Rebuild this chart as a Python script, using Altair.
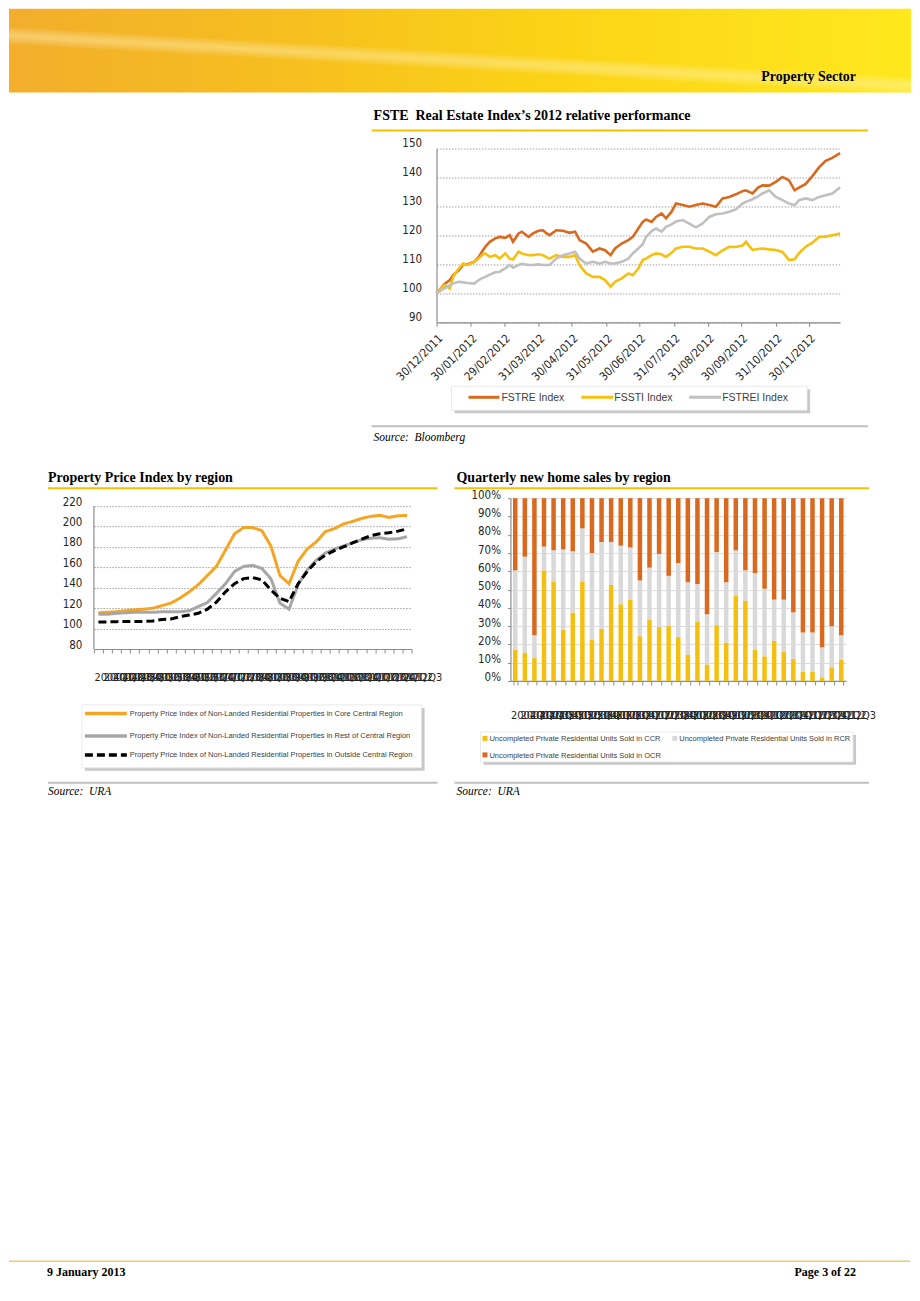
import altair as alt
import pandas as pd

# ===================== DATA =====================
# Chart 1 : FSTE Real Estate Index's 2012 relative performance (rebased, 30/12/2011 = 100)
fs_start = "2011-12-30"
fs_days = [0, 7, 12, 15, 20, 24, 28, 34, 38, 41, 44, 48, 53, 57, 62, 66, 69, 74, 77, 83,
           87, 92, 96, 99, 102, 108, 114, 120, 125, 129, 135, 141, 147, 152, 157, 161, 167, 173, 177, 182,
           186, 189, 194, 198, 203, 207, 212, 216, 222, 228, 234, 240, 246, 252, 258, 264, 270, 276, 279, 285,
           290, 294, 300, 306, 312, 318, 323, 327, 333, 339, 345, 351, 357, 364]
fstre = [100, 103.2, 104.6, 106.3, 108.0, 109.8, 110.1, 110.9, 112.5, 114.4, 116.1, 117.8, 119.0, 119.5, 119.2, 120.1, 117.8, 120.7, 121.3, 119.5,
         120.7, 121.6, 121.8, 120.8, 120.1, 121.8, 121.6, 120.9, 121.3, 118.4, 117.2, 114.4, 115.5, 114.9, 113.2, 115.5, 117.2, 118.4, 119.5, 122.4,
         124.7, 125.5, 124.7, 126.4, 127.6, 125.9, 128.2, 131.0, 130.5, 129.9, 130.5, 131.0, 130.5, 129.9, 132.8, 133.3, 134.2, 135.3, 135.6, 134.5,
         136.5, 137.3, 137.2, 138.5, 140.2, 139.0, 135.6, 136.5, 137.8, 140.5, 143.5, 145.8, 146.8, 148.4]
fssti = [100, 102.9, 101.7, 105.7, 108.6, 110.3, 109.8, 110.9, 112.0, 113.2, 113.8, 112.6, 113.2, 112.0, 113.8, 112.0, 111.7, 114.4, 113.8, 113.2,
         113.2, 113.5, 113.2, 112.5, 112.0, 113.2, 112.6, 112.6, 113.2, 109.8, 106.9, 105.7, 105.7, 104.6, 102.3, 104.0, 105.2, 106.9, 106.3, 108.6,
         111.5, 112.0, 113.2, 113.8, 113.5, 112.6, 114.0, 115.5, 116.1, 116.1, 115.5, 115.5, 114.4, 113.2, 114.9, 116.1, 116.0, 116.5, 117.8, 115.0,
         115.3, 115.5, 115.2, 115.0, 114.3, 111.5, 111.8, 113.9, 116.1, 117.5, 119.5, 119.6, 120.1, 120.7]
fstrei = [100, 101.7, 102.8, 103.4, 104.0, 103.8, 103.6, 103.4, 104.6, 105.2, 105.7, 106.5, 107.3, 107.5, 108.6, 109.8, 108.9, 109.8, 110.2, 109.8,
          109.8, 110.0, 109.8, 109.8, 109.8, 112.0, 113.2, 113.8, 114.4, 112.0, 110.3, 110.9, 110.3, 110.9, 110.3, 110.3, 110.9, 112.0, 113.8, 115.5,
          117.0, 119.5, 121.5, 122.4, 121.3, 123.0, 123.8, 124.8, 125.3, 124.1, 122.8, 124.1, 126.4, 127.3, 127.6, 128.2, 129.0, 131.0, 131.6, 132.5,
          133.5, 134.5, 135.6, 133.3, 132.2, 131.0, 130.4, 132.2, 132.8, 132.2, 133.3, 133.9, 134.5, 136.6]
fs_series = ["FSTRE Index", "FSSTI Index", "FSTREI Index"]
fs_colors = ["#D9691E", "#F5C010", "#C0C0C0"]
fs_tick_dates = [(2011, 12, 30), (2012, 1, 30), (2012, 2, 29), (2012, 3, 31), (2012, 4, 30), (2012, 5, 31),
                 (2012, 6, 30), (2012, 7, 31), (2012, 8, 31), (2012, 9, 30), (2012, 10, 31), (2012, 11, 30)]
fs_end = (2012, 12, 28)
fs_y_ticks = [90, 100, 110, 120, 130, 140, 150]

# Chart 2 : Property Price Index by region (2004Q1 .. 2012Q3)
quarters = ["2004Q1", "2004Q2", "2004Q3", "2004Q4", "2005Q1", "2005Q2", "2005Q3", "2005Q4",
            "2006Q1", "2006Q2", "2006Q3", "2006Q4", "2007Q1", "2007Q2", "2007Q3", "2007Q4",
            "2008Q1", "2008Q2", "2008Q3", "2008Q4", "2009Q1", "2009Q2", "2009Q3", "2009Q4",
            "2010Q1", "2010Q2", "2010Q3", "2010Q4", "2011Q1", "2011Q2", "2011Q3", "2011Q4",
            "2012Q1", "2012Q2", "2012Q3"]
ppi_series = ["Property Price Index of Non-Landed Residential Properties in Core Central Region",
              "Property Price Index of Non-Landed Residential Properties in Rest of Central Region",
              "Property Price Index of Non-Landed Residential Properties in Outside Central Region"]
ppi_ccr = [115.5, 116, 116.5, 117.5, 118.5, 119, 120, 122.5, 125, 130, 136, 143, 152, 161, 177, 193, 199, 199,
           196, 181, 152, 144, 166, 178, 185, 195, 198, 202.5, 205, 208, 210, 211, 209, 210.5, 211]
ppi_rcr = [114, 114, 115, 115.5, 116, 116, 116, 116.5, 116.5, 116.5, 117.5, 121.5, 125.5, 134.6, 144, 156, 161, 162,
           159, 149, 125, 119, 143, 157.5, 167, 174, 178, 181, 184, 187, 188.6, 189, 187.6, 188, 190]
ppi_ocr = [106.5, 106.5, 106.8, 107, 107, 107, 107.5, 109, 109.4, 111.7, 113.3, 115, 119, 126, 136, 144, 149, 150,
           147.7, 138, 129.7, 126.4, 144, 156, 165.7, 172, 176.5, 180, 184, 187.6, 191, 193, 194, 195.5, 197.7]
ppi_colors = ["#F6A523", "#A6A6A6", "#000000"]
ppi_y_ticks = [80, 100, 120, 140, 160, 180, 200, 220]

# Chart 3 : Quarterly new home sales by region (share of units sold, %)
sales_series = ["Uncompleted Private Residential Units Sold in CCR",
                "Uncompleted Private Residential Units Sold in RCR",
                "Uncompleted Private Residential Units Sold in OCR"]
sales_ccr = [17, 15.5, 12.5, 60.5, 54.5, 28, 37.5, 54.5, 22.5, 28.5, 52.5, 42, 44.5, 24.5, 33.5, 29.5, 30, 24,
             14.5, 32.5, 9, 30.5, 21, 46.5, 44, 17, 13.5, 22, 16, 12, 5, 5, 2, 7.5, 11.5]
sales_rcr = [43.5, 52.5, 12.5, 13, 17, 44, 33.5, 29, 47.5, 47.5, 23.5, 32, 28.5, 30.5, 28.5, 40, 27.5, 40.5,
             39.5, 20.5, 27.5, 40, 33, 25, 16.5, 42, 37, 22.5, 28.5, 25.5, 21.5, 21.5, 16.5, 22.5, 13.5]
sales_ocr = [39.5, 32, 75, 26.5, 28.5, 28, 29, 16.5, 30, 24, 24, 26, 27, 45, 38, 30.5, 42.5, 35.5,
             46, 47, 63.5, 29.5, 46, 28.5, 39.5, 41, 49.5, 55.5, 55.5, 62.5, 73.5, 73.5, 81.5, 70, 75]
sales_colors = ["#F5BF12", "#D9D9D9", "#D9691E"]
sales_y_ticks = [0, 0.1, 0.2, 0.3, 0.4, 0.5, 0.6, 0.7, 0.8, 0.9, 1.0]

# ===================== STYLE =====================
SERIF = "Liberation Serif, Times New Roman, serif"
NARROW = "Liberation Sans Narrow, Arial Narrow, DejaVu Sans Condensed, Liberation Sans, Arial, sans-serif"
SANS = "Liberation Sans, Arial, sans-serif"
AX = "#8C8C8C"
NB = "\u00a0"
ONE = pd.DataFrame({"k": [0]})


def drect(o, x, y, x2, y2, **kw):
    return alt.Chart(ONE).mark_rect(**kw).encode(
        x=alt.value(x - o[0]), x2=alt.value(x2 - o[0]), y=alt.value(y - o[1]), y2=alt.value(y2 - o[1]))


def drule(o, x, x2, y, color, width, dash=None):
    kw = dict(color=color, strokeWidth=width)
    if dash:
        kw["strokeDash"] = dash
    return alt.Chart(ONE).mark_rule(**kw).encode(
        x=alt.value(x - o[0]), x2=alt.value(x2 - o[0]), y=alt.value(y - o[1]))


def dtext(o, text, x, y, size, font, weight="normal", style="normal", align="left", color="#000000"):
    return alt.Chart(ONE).mark_text(text=text, font=font, fontSize=size, fontWeight=weight, fontStyle=style,
                                    align=align, baseline="alphabetic", color=color).encode(
        x=alt.value(x - o[0]), y=alt.value(y - o[1]))


def spacer(w):
    return alt.Chart(ONE).mark_rect(opacity=0).encode(
        x=alt.value(0), x2=alt.value(1), y=alt.value(0), y2=alt.value(1)).properties(width=w, height=1)


def dt(t):
    return alt.DateTime(year=t[0], month=t[1], date=t[2])


# ===================== HEADER =====================
O0 = (8, 8)
banner_fill = {"gradient": "linear", "x1": 0, "y1": 0, "x2": 1, "y2": 0,
               "stops": [{"offset": 0, "color": "#F2AE2C"}, {"offset": 0.3, "color": "#F6BE1F"},
                         {"offset": 0.6, "color": "#FBD316"}, {"offset": 1, "color": "#FFE81E"}]}
swoosh_fill = {"gradient": "linear", "x1": 0, "y1": 1, "x2": 0.6, "y2": 0,
               "stops": [{"offset": 0, "color": "rgba(255,255,255,0)"},
                         {"offset": 0.42, "color": "rgba(255,255,255,0)"},
                         {"offset": 0.5, "color": "rgba(255,240,180,0.45)"},
                         {"offset": 0.58, "color": "rgba(255,255,255,0)"},
                         {"offset": 1, "color": "rgba(255,255,255,0)"}]}
header = alt.layer(
    drect(O0, 8, 8, 911, 92, fill=banner_fill),
    drect(O0, 8, 8, 911, 92, fill=swoosh_fill),
    dtext(O0, "Property Sector", 856, 80, 14, SERIF, weight="bold", align="right"),
).properties(width=903, height=84)

# ===================== CHART 1 =====================
O1 = (435, 148)
base = pd.Timestamp(fs_start)
fs_dates = [(base + pd.Timedelta(days=d)).strftime("%Y-%m-%dT00:00:00") for d in fs_days]
df1 = pd.DataFrame({
    "date": fs_dates * 3,
    "value": fstre + fssti + fstrei,
    "series": [s for s in fs_series for _ in fs_days],
})

lines1 = alt.Chart(df1).mark_line(strokeWidth=2.6).encode(
    x=alt.X("date:T", scale=alt.Scale(domain=[dt(fs_tick_dates[0]), dt(fs_end)]),
            axis=alt.Axis(values=[dt(t) for t in fs_tick_dates], format="%d/%m/%Y", title=None,
                          labelAngle=-45, labelFont=NARROW, labelFontSize=11.5, labelColor="#262626",
                          labelPadding=6, labelOverlap=False, labelFlush=False, grid=False,
                          domainColor=AX, domainWidth=1.2, tickColor=AX, tickSize=4)),
    y=alt.Y("value:Q", scale=alt.Scale(domain=[90, 150], nice=False, zero=False),
            axis=alt.Axis(values=fs_y_ticks, title=None, grid=True, gridColor="#8A8A8A",
                          gridDash=[1.5, 1.5], gridWidth=0.8, domainColor=AX, domainWidth=1.2,
                          ticks=False, labelFont=NARROW, labelFontSize=11.5, labelColor="#262626",
                          labelPadding=15, labelOffset=-5, labelOverlap=False)),
    color=alt.Color("series:N", scale=alt.Scale(domain=fs_series, range=fs_colors), legend=None),
)

cell1 = alt.layer(
    drect(O1, 370, 92, 911, 458, color="#FFFFFF", opacity=0),
    dtext(O1, "FSTE" + NB + " Real Estate Index\u2019s 2012 relative performance", 372, 119.5, 14, SERIF,
          weight="bold"),
    drule(O1, 370, 867, 130, "#F2C200", 2),
    drect(O1, 453, 389, 809, 413, color="#C8C8C8"),
    drect(O1, 450, 386, 806, 410, color="#FFFFFF", stroke="#E4E4E4", strokeWidth=0.8),
    drule(O1, 467, 498, 397, fs_colors[0], 3),
    dtext(O1, fs_series[0], 500, 401, 10.5, SANS, color="#404040"),
    drule(O1, 580, 612, 397, fs_colors[1], 3),
    dtext(O1, fs_series[1], 613, 401, 10.5, SANS, color="#404040"),
    drule(O1, 688, 720, 397, fs_colors[2], 3),
    dtext(O1, fs_series[2], 721, 401, 10.5, SANS, color="#404040"),
    drule(O1, 370, 867, 426, "#C0C0C0", 2),
    dtext(O1, "Source:" + NB + " Bloomberg", 372, 441, 11.5, SERIF, style="italic"),
    lines1,
).properties(width=404, height=174)

# ===================== CHART 2 =====================
O2 = (92, 498)
df2 = pd.DataFrame({
    "q": quarters * 3,
    "value": ppi_ccr + ppi_rcr + ppi_ocr,
    "series": [s for s in ppi_series for _ in quarters],
})
ppi_top = 80 + 140 * 151 / 143   # plot top sits 8px above the 220 line
y2_scale = alt.Scale(domain=[80, ppi_top], nice=False, zero=False)
y2_axis = alt.Axis(values=ppi_y_ticks, title=None, grid=True, gridColor="#8A8A8A",
                   gridDash=[1.5, 1.5], gridWidth=0.8, domain=False, ticks=False,
                   labelFont=NARROW, labelFontSize=11.5, labelColor="#262626",
                   labelPadding=12, labelOffset=-4, labelOverlap=False)

lines2 = alt.Chart(df2).mark_line(strokeWidth=3).encode(
    x=alt.X("q:O", sort=quarters, scale=alt.Scale(type="band", paddingInner=0, paddingOuter=0),
            axis=alt.Axis(title=None, labelAngle=0, labelAlign="left", labelOffset=-4.5, labelPadding=19,
                          labelOverlap=False, labelFont=NARROW, labelFontSize=11, labelColor="#262626",
                          tickBand="extent", tickColor=AX, tickSize=4, domainColor=AX, domainWidth=1.2,
                          grid=False)),
    y=alt.Y("value:Q", scale=y2_scale, axis=y2_axis),
    color=alt.Color("series:N", scale=alt.Scale(domain=ppi_series, range=ppi_colors), legend=None),
    strokeDash=alt.StrokeDash("series:N", scale=alt.Scale(domain=ppi_series, range=[[1, 0], [1, 0], [8, 4]]),
                              legend=None),
)
yaxis2 = alt.Chart(pd.DataFrame({"value": [ppi_y_ticks[0]], "hi": [ppi_y_ticks[-1]]})).mark_rule(
    color=AX, strokeWidth=1.2).encode(x=alt.value(0), y=alt.Y("value:Q", scale=y2_scale, axis=y2_axis),
                                      y2="hi:Q")

cell2 = alt.layer(
    drect(O2, 46, 458, 446, 800, color="#FFFFFF", opacity=0),
    dtext(O2, "Property Price Index by region", 46, 482, 14, SERIF, weight="bold"),
    drule(O2, 46, 436, 488, "#F2C200", 2),
    drect(O2, 83, 708, 423, 771, color="#C8C8C8"),
    drect(O2, 80, 705, 420, 768, color="#FFFFFF", stroke="#E4E4E4", strokeWidth=0.8),
    drule(O2, 83, 125, 713.5, ppi_colors[0], 3.5),
    dtext(O2, ppi_series[0], 128, 716, 7.5, SANS, color="#404040"),
    drule(O2, 83, 125, 736, ppi_colors[1], 3.5),
    dtext(O2, ppi_series[1], 128, 738.5, 7.5, SANS, color="#404040"),
    drule(O2, 83, 125, 755, ppi_colors[2], 3.5, dash=[8, 4]),
    dtext(O2, ppi_series[2], 128, 757.5, 7.5, SANS, color="#404040"),
    drule(O2, 46, 436, 783, "#C0C0C0", 2),
    dtext(O2, "Source:" + NB + " URA", 46, 795, 11.5, SERIF, style="italic"),
    yaxis2,
    lines2,
).properties(width=318, height=151)

# ===================== CHART 3 =====================
O3 = (509, 498)
df3 = pd.DataFrame({
    "q": quarters * 3,
    "pct": sales_ccr + sales_rcr + sales_ocr,
    "series": [s for s in sales_series for _ in quarters],
    "ord": [i for i in range(3) for _ in quarters],
})

bars3 = alt.Chart(df3).mark_bar().encode(
    x=alt.X("q:O", sort=quarters, scale=alt.Scale(paddingInner=0.53, paddingOuter=0.265),
            axis=alt.Axis(title=None, labelAngle=0, labelAlign="left", labelOffset=-4.8, labelPadding=25,
                          labelOverlap=False, labelFont=NARROW, labelFontSize=11, labelColor="#262626",
                          tickBand="extent", tickColor=AX, tickSize=4, domainColor=AX, domainWidth=1.2,
                          grid=False)),
    y=alt.Y("pct:Q", stack="normalize", scale=alt.Scale(domain=[0, 1], nice=False),
            axis=alt.Axis(values=sales_y_ticks, format=".0%", title=None, grid=True, gridColor="#D4D4D4",
                          gridWidth=0.8, domainColor=AX, domainWidth=1.2, tickColor=AX, tickSize=3,
                          labelFont=NARROW, labelFontSize=11.5, labelColor="#262626", labelPadding=7,
                          labelOffset=-3, labelOverlap=False)),
    color=alt.Color("series:N", scale=alt.Scale(domain=sales_series, range=sales_colors), legend=None),
    order=alt.Order("ord:Q"),
)

cell3 = alt.layer(
    drect(O3, 446, 458, 911, 800, color="#FFFFFF", opacity=0),
    dtext(O3, "Quarterly new home sales by region", 455, 482, 14, SERIF, weight="bold"),
    drule(O3, 453, 868, 488, "#F2C200", 2),
    drect(O3, 482, 735, 855, 765, color="#C8C8C8"),
    drect(O3, 479, 732, 852, 762, color="#FFFFFF", stroke="#E4E4E4", strokeWidth=0.8),
    drect(O3, 481, 736, 486, 741, color=sales_colors[0]),
    dtext(O3, sales_series[0], 488, 741, 7.5, SANS, color="#404040"),
    drect(O3, 671, 736, 676, 741, color=sales_colors[1]),
    dtext(O3, sales_series[1], 678, 741, 7.5, SANS, color="#404040"),
    drect(O3, 481, 752.5, 486, 757.5, color=sales_colors[2]),
    dtext(O3, sales_series[2], 488, 758, 7.5, SANS, color="#404040"),
    drule(O3, 453, 868, 783, "#C0C0C0", 2),
    dtext(O3, "Source:" + NB + " URA", 455, 795, 11.5, SERIF, style="italic"),
    bars3,
).properties(width=336, height=183)

# ===================== FOOTER =====================
O4 = (8, 800)
footer = alt.layer(
    drule(O4, 8, 910, 1262, "#EBCB6E", 1.5),
    dtext(O4, "9 January 2013", 46, 1277, 12, SERIF, weight="bold"),
    dtext(O4, "Page 3 of 22", 856, 1277, 12, SERIF, weight="bold", align="right"),
).properties(width=903, height=490)

IND = dict(color="independent", strokeDash="independent")
row1 = alt.hconcat(spacer(362), cell1, spacing=0).resolve_scale(**IND)
row2 = alt.hconcat(spacer(38), cell2, cell3, spacing=0).resolve_scale(**IND)

chart = alt.vconcat(header, row1, row2, footer, spacing=0).resolve_scale(**IND).properties(
    padding=0).configure_view(stroke=None)

chart.save("out.html", embed_options={"renderer": "svg", "actions": False})
